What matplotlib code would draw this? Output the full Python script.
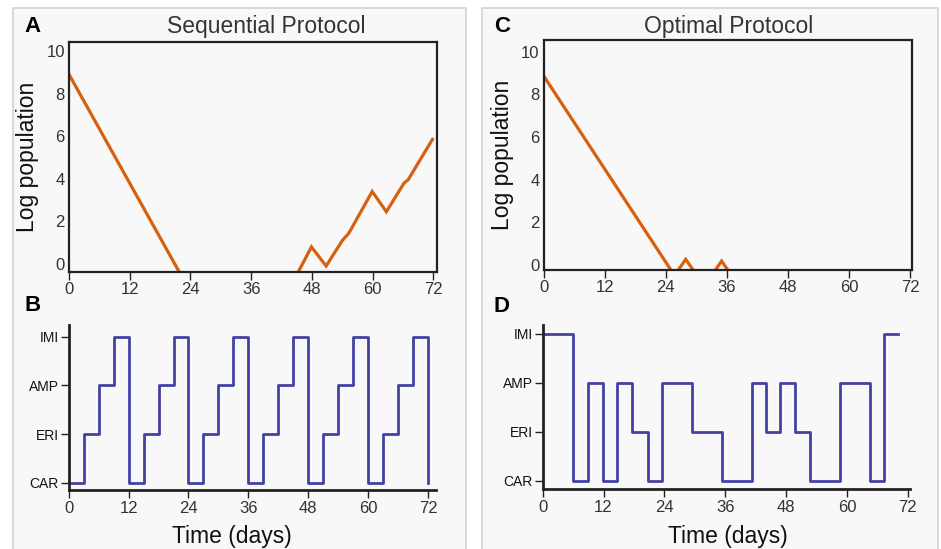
import matplotlib
matplotlib.use('Agg')
import matplotlib.pyplot as plt
from matplotlib.patches import Rectangle

plt.rcParams['font.family'] = ['Liberation Sans', 'DejaVu Sans']

W, H = 941, 549

# log population curves (values below 0 are clipped at the axis floor)
seq_days = [0, 22.3, 44.8, 47.9, 50.8, 54.0, 55.3, 59.9, 62.7, 66.2, 67.0, 71.8]
seq_logpop = [8.9, -0.6, -0.6, 0.8, -0.1, 1.1, 1.45, 3.4, 2.45, 3.8, 3.95, 5.85]

opt_days = [0, 25.6, 25.8, 27.9, 30.0, 33.1, 34.95, 36.8, 72]
opt_logpop = [8.86, -0.45, -0.45, 0.27, -0.45, -0.45, 0.19, -0.45, -0.45]

# drug schedules, 0=CAR 1=ERI 2=AMP 3=IMI
drugs = ['CAR', 'ERI', 'AMP', 'IMI']
seq_switch = [0, 3, 6, 9, 12, 15, 18, 21, 24, 27, 30, 33, 36, 39, 42, 45,
              48, 51, 54, 57, 60, 63, 66, 69, 72]
seq_drug = [0, 1, 2, 3, 0, 1, 2, 3, 0, 1, 2, 3, 0, 1, 2, 3,
            0, 1, 2, 3, 0, 1, 2, 3, 0]
opt_switch = [0, 6.0, 8.9, 11.9, 14.7, 17.7, 20.7, 23.6, 29.4, 35.4, 41.2,
              44.0, 46.9, 49.8, 52.8, 58.6, 64.5, 67.4, 70.1]
opt_drug = [3, 0, 2, 0, 2, 1, 0, 2, 1, 0, 2, 1, 2, 1, 0, 2, 0, 3, 3]

xticks = [0, 12, 24, 36, 48, 60, 72]
yticks = [0, 2, 4, 6, 8, 10]

orange = '#d7600f'
blue = '#4242a3'
dark = '#222222'
txt = '#333333'


def rect(l, t, r, b):
    # pixel box -> figure fraction [left, bottom, width, height]
    return [l / W, 1 - b / H, (r - l) / W, (b - t) / H]


fig = plt.figure(figsize=(W / 100, H / 100), dpi=100)

# light panels behind each column
for l, r in [(13, 466), (482, 938)]:
    fig.patches.append(Rectangle((l / W, -0.05), (r - l) / W, 1 - 8 / H + 0.05,
                                 transform=fig.transFigure, facecolor='#f8f8f8',
                                 edgecolor='#d2d2d2', linewidth=1.2, zorder=-5))

ax_a = fig.add_axes(rect(69, 42, 437, 272))
ax_c = fig.add_axes(rect(543.7, 40.3, 911.7, 270))
ax_b = fig.add_axes(rect(68.7, 325, 436, 490))
ax_d = fig.add_axes(rect(542.7, 325, 910, 489))

for ax, xs, ys, ylo, yhi, xhi in [(ax_a, seq_days, seq_logpop, -0.38, 10.42, 72.7),
                                  (ax_c, opt_days, opt_logpop, -0.23, 10.53, 72.3)]:
    ax.set_facecolor('#f8f8f8')
    ax.plot(xs, ys, color=orange, lw=2.3, solid_joinstyle='miter')
    ax.set_xlim(0, xhi)
    ax.set_ylim(ylo, yhi)
    ax.set_xticks(xticks)
    ax.set_yticks(yticks)
    for s in ax.spines.values():
        s.set_color(dark)
        s.set_linewidth(1.6)
    ax.tick_params(axis='y', length=0, pad=3, labelsize=12, labelcolor=txt)
    ax.tick_params(axis='x', length=5.5, width=1, color=dark, pad=2,
                   labelsize=12, labelcolor=txt)
    ax.set_ylabel('Log population', fontsize=16.5, color='#111111', labelpad=5)

for ax, xs, ys, ylo, yhi, xhi in [(ax_b, seq_switch, seq_drug, -0.15, 3.24, 73.6),
                                  (ax_d, opt_switch, opt_drug, -0.17, 3.18, 72.45)]:
    ax.set_facecolor('#f8f8f8')
    ax.step(xs, ys, where='post', color=blue, lw=2)
    ax.set_xlim(0, xhi)
    ax.set_ylim(ylo, yhi)
    ax.set_xticks(xticks)
    ax.set_yticks(range(4))
    ax.set_yticklabels(drugs)
    ax.spines['top'].set_visible(False)
    ax.spines['right'].set_visible(False)
    for s in ['left', 'bottom']:
        ax.spines[s].set_color(dark)
        ax.spines[s].set_linewidth(2)
    ax.tick_params(axis='y', length=6, width=1, color=dark, pad=1,
                   labelsize=10, labelcolor='#111111')
    ax.tick_params(axis='x', length=6, width=1, color=dark, pad=2,
                   labelsize=12, labelcolor=txt)

# titles, panel letters and shared x labels
fig.text(266 / W, 1 - 26 / H, 'Sequential Protocol', ha='center', va='center',
         fontsize=16.5, color=txt)
fig.text(729 / W, 1 - 26 / H, 'Optimal Protocol', ha='center', va='center',
         fontsize=16.5, color=txt)
fig.text(231.7 / W, 1 - 537 / H, 'Time (days)', ha='center', va='center',
         fontsize=16.5, color='#111111')
fig.text(728.3 / W, 1 - 537 / H, 'Time (days)', ha='center', va='center',
         fontsize=16.5, color='#111111')
for x, y, letter in [(24, 26, 'A'), (24, 305.5, 'B'), (494, 26, 'C'), (494, 306, 'D')]:
    fig.text(x / W, 1 - y / H, letter, ha='left', va='center',
             fontsize=16, fontweight='bold', color='black')

fig.savefig('out.png', dpi=100)
